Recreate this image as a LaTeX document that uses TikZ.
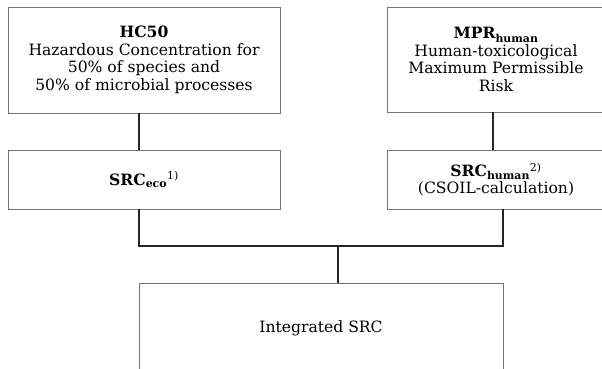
\documentclass[tikz,border=0pt]{standalone}
\usepackage{fontspec}
\setmainfont{DejaVu Serif}
\usepackage{tikz}
\usetikzlibrary{positioning}
\begin{document}
\begin{tikzpicture}[x=1pt,y=-1pt,
	box/.style={draw=black!55, line width=0.8pt, align=center, inner sep=0pt,
		font=\fontsize{15.6}{17.5}\selectfont},
	link/.style={draw=black!85, line width=1.8pt}]
	\useasboundingbox (0,0) rectangle (602,369);
	
	% upper row
	\node[box, minimum width=272pt, minimum height=106pt] (hc) at (144,60)
		{\textbf{HC50}\\Hazardous Concentration for\\50\% of species and\\50\% of microbial processes};
	\node[box, minimum width=218pt, minimum height=105pt] (mpr) at (496,59.5)
		{\textbf{MPR}\textsubscript{\textbf{human}}\\Human-toxicological\\Maximum Permissible\\Risk};
	
	% middle row
	\node[box, minimum width=272pt, minimum height=59pt] (eco) at (144,179.5)
		{\textbf{SRC}\textsubscript{\textbf{eco}}\textsuperscript{1)}};
	\node[box, minimum width=218pt, minimum height=59pt] (human) at (496,179.5)
		{\textbf{SRC}\textsubscript{\textbf{human}}\textsuperscript{2)}\\(CSOIL-calculation)};
	
	% result
	\node[box, minimum width=364pt, minimum height=90pt] (intsrc) at (321,328)
		{Integrated SRC};
	
	\coordinate (joint) at (338,246);
	\draw[link] ([xshift=-5pt]hc.south) -- ([xshift=-5pt]eco.north);
	\draw[link] ([xshift=-3pt]mpr.south) -- ([xshift=-3pt]human.north);
	\draw[link] ([xshift=-5pt]eco.south) |- (joint) -| ([xshift=7pt]human.south);
	\draw[link] (joint) -- (joint |- intsrc.north);
\end{tikzpicture}
\end{document}
